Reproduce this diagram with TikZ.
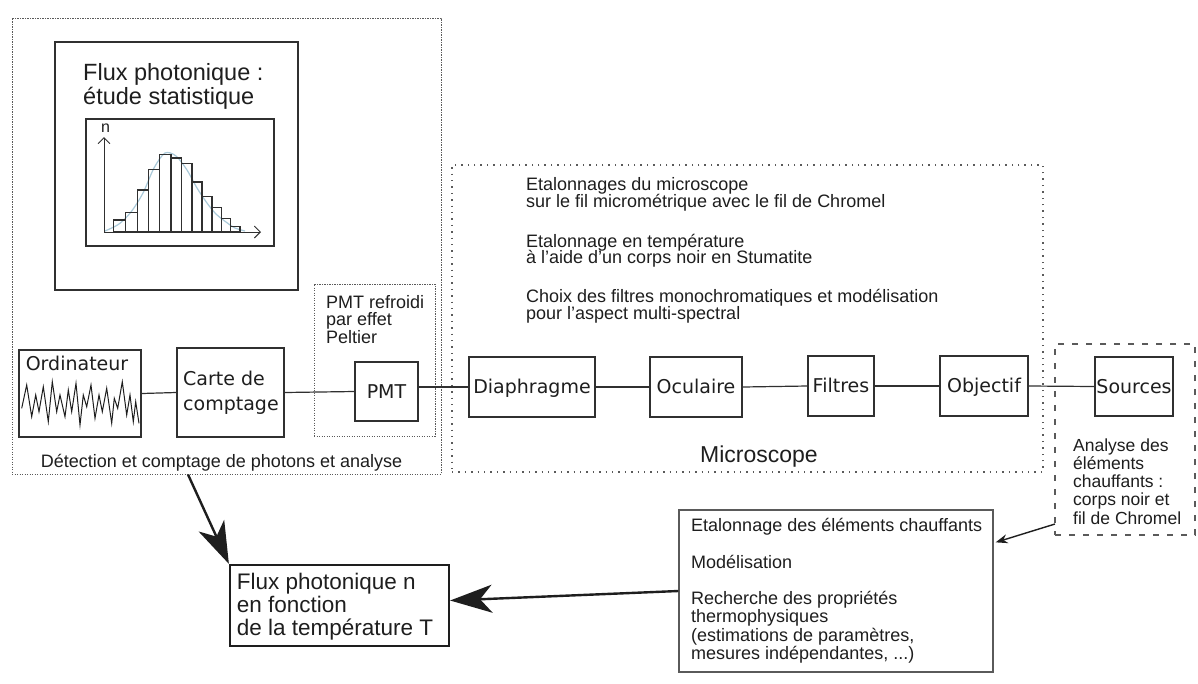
\documentclass[tikz,border=0pt]{standalone}
\usepackage{fontspec}
\setmainfont{Liberation Sans}
\newfontfamily\dv{DejaVu Sans}
\usetikzlibrary{arrows.meta,calc}
\definecolor{ink}{HTML}{1E1E1E}
\definecolor{bord}{HTML}{303030}
\definecolor{dotc}{HTML}{5A5A5A}
\definecolor{curvec}{HTML}{A9C9D9}
\newcommand{\fsz}[2]{\fontsize{#1}{#2}\selectfont\lineskiplimit=-100pt\lineskip=0pt}
\begin{document}
\begin{tikzpicture}[x=1pt,y=-1pt,
  blk/.style={draw=bord, line width=1.5pt, inner sep=0pt, text=ink,
    font=\dv\fsz{19}{23}, text height=13.7pt, text depth=0pt},
  conn/.style={draw=bord, line width=1.2pt},
  dotbox/.style={draw=dotc, line width=0.9pt, dash pattern=on 1.2pt off 1.3pt, inner sep=0pt},
  microbox/.style={draw=dotc, line width=1.1pt, dash pattern=on 1.4pt off 5pt, inner sep=0pt},
  srcbox/.style={draw=dotc, line width=1.4pt, dash pattern=on 6pt off 8pt, inner sep=0pt},
  txt/.style={inner sep=0pt, text=ink, align=left},
  bigarr/.style={draw=ink, line width=2.4pt, -{Stealth[length=42pt,width=28pt,inset=12pt]}},
  smallarr/.style={draw=ink, line width=1.4pt, -{Stealth[length=12pt,width=9pt,inset=4pt]}},
]
\useasboundingbox (0,0) rectangle (1198,683);
\fill[white] (0,0) rectangle (1198,683);

% containers
\node[dotbox, minimum width=429pt, minimum height=456pt] (det) at (226.5,246) {};
\node[dotbox, minimum width=121pt, minimum height=152pt] (pmtbox) at (374.5,360) {};
\node[microbox, minimum width=591pt, minimum height=307pt] (micro) at (747.5,318.5) {};
\node[srcbox, minimum width=140pt, minimum height=191pt] (srcb) at (1125,439.5) {};

% histogram panel
\node[draw=bord, line width=1.2pt, inner sep=0pt, minimum width=243pt, minimum height=248pt] (histo) at (176.5,166) {};
\node[draw=bord, line width=1.8pt, inner sep=0pt, minimum width=188pt, minimum height=127pt] (hin) at (180,182.5) {};
\node[txt, anchor=base west, font=\fsz{23.5}{24}] (htitle) at (83,104) {Flux photonique :\\étude statistique};
\draw[curvec, line width=1.2pt] plot[smooth] coordinates {(105,231) (119,224) (131,212) (143,193) (154,168) (165,153) (176,156) (187,170) (197,188) (207,203) (216,214) (226,222) (235,228) (245,231)};
\foreach \a/\b/\t in {113.3/125.7/220, 125.7/137.3/212.3, 137.3/148.3/190, 148.3/159.7/169.3, 159.7/171/154.7, 171/181.7/158, 181.7/192/163.3, 192/202/182, 202/212/196.7, 212/221.3/207.3, 221.3/230.7/218.7, 230.7/240/226.7}
  \draw[bord, line width=1.1pt] (\a,231.7) rectangle (\b,\t);
\draw[bord, line width=0.9pt, -{Straight Barb[length=6pt,width=12pt]}] (104,232) -- (104,137);
\draw[bord, line width=0.9pt, -{Straight Barb[length=6pt,width=12pt]}] (104,232) -- (261,232);
\node[txt, anchor=base, font=\fsz{16}{16}] (nlab) at (105.5,132) {n};

% detection chain
\node[draw=bord, line width=1.5pt, inner sep=0pt, minimum width=122pt, minimum height=87pt] (ord) at (80,393.5) {};
\node[txt, anchor=base, font=\dv\fsz{19}{23}] (ordl) at (77,370) {Ordinateur};
\draw[ink, line width=1pt, line join=miter] plot coordinates {(21.7,408.3) (26.7,385) (31.7,416.7) (35.7,395) (39,411.7) (43.3,386.7) (48.3,421.7) (52.3,381.7) (56.7,411.7) (60,395) (65,416.7) (68.3,390) (71.7,411.7) (76,383.3) (80,425) (83.3,395) (86.7,406.7) (91,385) (95,418.3) (99,395) (102.3,411.7) (106.7,388.3) (111.7,423.3) (114.3,398.3) (117.7,408.3) (122.3,381.7) (126.7,415) (130,395) (133.3,421.7) (135.7,401.7) (139,423.3)};
\node[draw=bord, line width=1.5pt, inner sep=0pt, minimum width=107pt, minimum height=89pt] (carte) at (230.5,392.5) {};
\node[txt, anchor=base west, font=\dv\fsz{19}{25}] (cartel) at (183,410.7) {Carte de\\comptage};
\node[blk, minimum width=63pt, minimum height=59pt] (pmt) at (386.5,391.5) {PMT};
\node[txt, anchor=base west, font=\fsz{18}{17.5}] (pmtl) at (326,343) {PMT refroidi\\par effet\\Peltier};
\node[txt, anchor=base, font=\fsz{18}{18}] (detl) at (221.5,467.3) {Détection et comptage de photons et analyse};

% microscope chain
\node[blk, minimum width=126pt, minimum height=60pt] (diaph) at (532,387) {Diaphragme};
\node[blk, minimum width=92pt, minimum height=60pt] (ocul) at (696,387) {Oculaire};
\node[blk, minimum width=66pt, minimum height=60pt] (filt) at (841,386) {Filtres};
\node[blk, minimum width=88pt, minimum height=60pt] (obj) at (984,386) {Objectif};
\node[blk, minimum width=78pt, minimum height=59pt] (src) at (1134,386.5) {Sources};
\node[txt, anchor=base west, font=\fsz{18}{16.5}] (microtxt) at (526,319.3) {Etalonnages du microscope\\sur le fil micrométrique avec le fil de Chromel\\[23.6pt]Etalonnage en température\\à l'aide d'un corps noir en Stumatite\\[22.4pt]Choix des filtres monochromatiques et modélisation\\pour l'aspect multi-spectral};
\node[txt, anchor=base west, font=\fsz{23}{23}] (microl) at (700,462.3) {Microscope};
\node[txt, anchor=base west, font=\fsz{17.5}{18.1}] (srcl) at (1073,524) {Analyse des\\éléments\\chauffants :\\corps noir et\\fil de Chromel};

\draw[conn] (ord.east) -- (carte.west);
\draw[conn] (carte.east) -- (pmt.west);
\draw[conn] (diaph.west -| pmt.east) -- (diaph.west);
\draw[conn] (diaph.east) -- (ocul.west);
\draw[conn] (ocul.east) -- (filt.west);
\draw[conn] (filt.east) -- (obj.west);
\draw[conn] (obj.east) -- (src.west);

% results
\node[draw=dotc, line width=1.3pt, inner sep=0pt, minimum width=314pt, minimum height=162pt] (etal) at (836,591) {};
\node[txt, anchor=base west, font=\fsz{18}{18.3}] (etall) at (691,659.5) {Etalonnage des éléments chauffants\\[18.3pt]Modélisation\\[18.3pt]Recherche des propriétés\\thermophysiques\\(estimations de paramètres,\\mesures indépendantes, ...)};
\node[draw=ink, line width=2.2pt, inner sep=0pt, minimum width=219pt, minimum height=81pt] (flux) at (339.5,605.5) {};
\node[txt, anchor=base west, font=\fsz{22.5}{22.8}] (fluxl) at (236.7,635) {Flux photonique n\\en fonction\\de la température T};

\coordinate (a1) at (188,474.5);
\draw[bigarr] (a1) -- (flux.north west);
\draw[bigarr] (etal.west) -- ($(flux.east)+(0,-5)$);
\coordinate (a3) at (1055,524);
\draw[smallarr] (a3) -- ($(etal.north east)+(2,33)$);
\end{tikzpicture}
\end{document}
